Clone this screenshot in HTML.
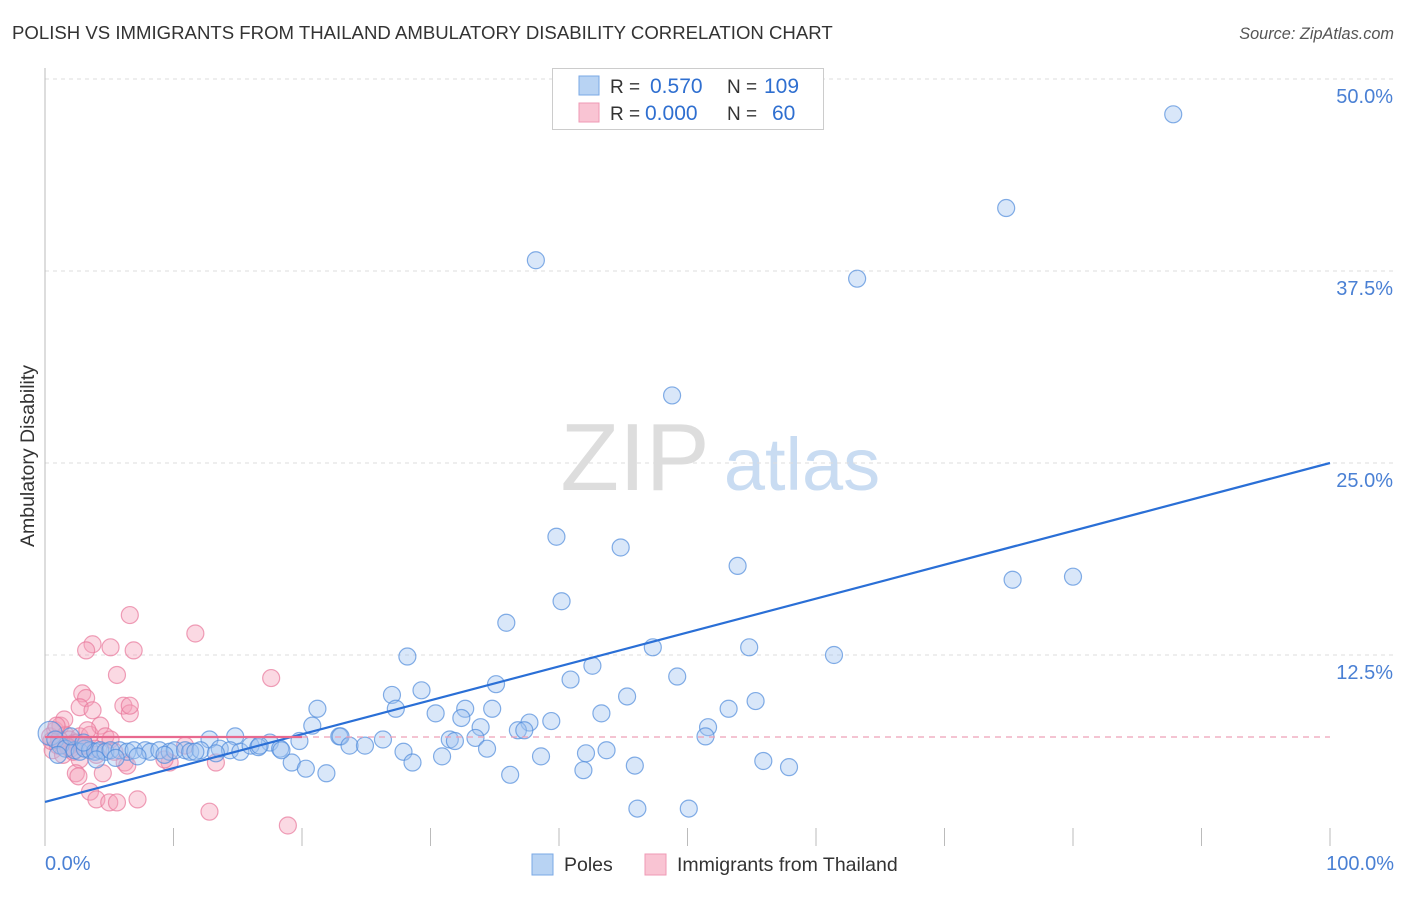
<!DOCTYPE html>
<html><head><meta charset="utf-8">
<style>
body{margin:0;background:#fff;font-family:"Liberation Sans",sans-serif;}
svg text{font-family:"Liberation Sans",sans-serif;}
</style></head>
<body>
<svg id="chart" width="1406" height="892" xmlns="http://www.w3.org/2000/svg">
<text x="12" y="39" font-size="18.6" fill="#333">POLISH VS IMMIGRANTS FROM THAILAND AMBULATORY DISABILITY CORRELATION CHART</text>
<text x="1394" y="39" font-size="16.3" fill="#555" font-style="italic" text-anchor="end">Source: ZipAtlas.com</text>
<g>
<text x="635" y="490" font-size="96" fill="#ddd" font-family="Liberation Serif" text-anchor="middle">ZIP</text>
<text x="802" y="490" font-size="74" fill="#c9dcf2" text-anchor="middle">atlas</text>
</g>
<g id="grid"></g>
<line x1="45" y1="68" x2="45" y2="846" stroke="#bbb"/>
<text transform="translate(34,456) rotate(-90)" font-size="19.5" fill="#333" text-anchor="middle">Ambulatory Disability</text>
<g id="ticks"></g>
<g id="pink"></g>
<g id="blue"></g>
<g id="lines"></g>
<g>
<rect x="552.5" y="68.5" width="271" height="61" fill="#fff" stroke="#ccc"/>
<rect x="579" y="76" width="20" height="19" fill="#b8d3f3" stroke="#7aa8e6"/>
<rect x="579" y="103" width="20" height="19" fill="#f9c4d3" stroke="#ef9ab4"/>
<text x="610" y="93" font-size="19" fill="#333">R =</text>
<text x="650" y="93" font-size="21" fill="#2f6fd0">0.570</text>
<text x="727" y="93" font-size="19" fill="#333">N =</text>
<text x="764" y="93" font-size="21" fill="#2f6fd0">109</text>
<text x="610" y="120" font-size="19" fill="#333">R =</text>
<text x="645" y="120" font-size="21" fill="#2f6fd0">0.000</text>
<text x="727" y="120" font-size="19" fill="#333">N =</text>
<text x="772" y="120" font-size="21" fill="#2f6fd0">60</text>
</g>
<g>
<rect x="532" y="854" width="21" height="21" fill="#b8d3f3" stroke="#7aa8e6"/>
<text x="564" y="871" font-size="19.5" fill="#333">Poles</text>
<rect x="645" y="854" width="21" height="21" fill="#f9c4d3" stroke="#ef9ab4"/>
<text x="677" y="871" font-size="19.5" fill="#333">Immigrants from Thailand</text>
</g>
<text x="45" y="870" font-size="20" fill="#4a80d4">0.0%</text>
<text x="1394" y="870" font-size="20" fill="#4a80d4" text-anchor="end">100.0%</text>
</svg>
<script>
const yTicks=[12.5,25,37.5,50];
const yTickLabels=["12.5%","25.0%","37.5%","50.0%"];
const blueX=[87.8,74.8,38.2,63.2,48.8,39.8,44.8,53.9,75.3,80.0,40.2,35.9,47.3,54.8,61.4,28.2,42.6,49.2,40.9,35.1,27.0,29.3,45.3,55.3,21.2,27.3,32.7,34.8,53.2,43.3,30.4,32.4,37.7,39.4,33.9,20.8,51.6,36.8,37.3,22.9,26.3,31.5,33.5,23.0,51.4,14.8,12.8,17.5,19.8,23.7,24.9,31.9,34.4,43.7,42.1,27.9,38.6,30.9,28.6,19.2,45.9,55.9,57.9,20.3,21.9,36.2,41.9,46.1,50.1,
0.4,0.8,1.2,1.6,2.3,2.7,3.1,3.5,3.9,4.3,4.7,5.1,5.8,6.4,6.9,7.8,8.2,8.9,9.7,10.1,10.9,11.3,12.1,13.6,14.4,15.2,16.0,16.6,18.3,18.4,2.0,3.0,5.5,7.2,9.3,11.7,13.3,16.7,1.0,4.0];
const blueY=[47.7,41.6,38.2,37.0,29.4,20.2,19.5,18.3,17.4,17.6,16.0,14.6,13.0,13.0,12.5,12.4,11.8,11.1,10.9,10.6,9.9,10.2,9.8,9.5,9.0,9.0,9.0,9.0,9.0,8.7,8.7,8.4,8.1,8.2,7.8,7.9,7.8,7.6,7.6,7.2,7.0,7.0,7.1,7.2,7.2,7.2,7.0,6.8,6.9,6.6,6.6,6.9,6.4,6.3,6.1,6.2,5.9,5.9,5.5,5.5,5.3,5.6,5.2,5.1,4.8,4.7,5.0,2.5,2.5,
7.4,7.0,6.6,6.4,6.3,6.2,6.4,6.3,6.2,6.3,6.2,6.3,6.3,6.2,6.3,6.3,6.2,6.3,6.2,6.3,6.3,6.2,6.3,6.4,6.3,6.2,6.6,6.5,6.4,6.3,7.2,6.8,5.8,5.9,6.0,6.2,6.1,6.6,6.0,5.7];
const pinkX=[6.6,11.7,3.7,3.2,5.1,6.9,17.6,5.6,2.9,3.2,6.1,6.6,2.7,3.7,6.6,0.4,0.8,1.2,1.6,1.9,2.3,2.7,3.1,3.5,3.9,4.3,4.7,5.1,0.6,1.0,1.4,2.0,2.5,3.3,4.0,5.4,6.2,0.5,1.1,1.8,2.7,2.4,2.6,4.5,3.5,4.0,5.0,5.6,7.2,12.8,18.9,6.4,9.7,13.3,10.9,9.3,1.5,0.9,3.0,2.2];
const pinkY=[15.1,13.9,13.2,12.8,13.0,12.8,11.0,11.2,10.0,9.7,9.2,8.7,9.1,8.9,9.2,7.2,7.6,7.9,7.3,7.0,6.8,7.2,6.6,7.3,6.4,7.9,7.2,7.0,6.3,6.6,6.0,6.4,6.8,7.6,6.0,6.2,5.5,6.9,7.0,6.5,5.7,4.8,4.6,4.8,3.6,3.1,2.9,2.9,3.1,2.3,1.4,5.3,5.5,5.5,6.6,5.7,8.3,7.9,6.6,6.2];
const blueTrend=[2.93,25.0];
const pinkMean=7.16;
const X=v=>45+v*12.85, Y=v=>847-v*15.36;
const NS="http://www.w3.org/2000/svg";
function mk(tag,attrs,parent){const e=document.createElementNS(NS,tag);for(const k in attrs)e.setAttribute(k,attrs[k]);parent.appendChild(e);return e;}
const grid=document.getElementById('grid');
yTicks.forEach((t,i)=>{
 const l=mk('line',{x1:45,x2:1394,y1:Y(t),y2:Y(t),stroke:'#ddd','stroke-dasharray':'4,4'},grid);
 
 
 const tx=mk('text',{x:1393,y:Y(t)+24,'font-size':20,fill:'#4a80d4','text-anchor':'end'},grid);
 tx.textContent=yTickLabels[i];
 
 
});
const ticks=document.getElementById('ticks');
for(let i=0;i<=10;i++){
 const l=mk('line',{x1:X(i*10),x2:X(i*10),y1:828,y2:846,stroke:'#bbb'},ticks);
 
 
}
const pg=document.getElementById('pink');
pinkX.forEach((x,i)=>{
 const c=mk('circle',{cx:X(x),cy:Y(pinkY[i]),r:8.5,fill:'rgba(244,160,186,0.4)',stroke:'rgba(232,120,155,0.7)','stroke-width':1.2},pg);
 
 
});
const bg=document.getElementById('blue');
blueX.forEach((x,i)=>{
 const c=mk('circle',{cx:X(x),cy:Y(blueY[i]),r:i==69?12:8.5,fill:'rgba(160,196,240,0.4)',stroke:'rgba(80,140,220,0.7)','stroke-width':1.2},bg);
 
 
});
const lg=document.getElementById('lines');
const bt=mk('line',{x1:X(0),y1:Y(blueTrend[0]),x2:X(100),y2:Y(blueTrend[1]),stroke:'#2a6fd6','stroke-width':2.2},lg);


const ps=mk('line',{x1:X(0),y1:Y(pinkMean),x2:X(20),y2:Y(pinkMean),stroke:'#e8698f','stroke-width':2.2},lg);


const pd=mk('line',{x1:X(20),y1:Y(pinkMean),x2:X(100),y2:Y(pinkMean),stroke:'#eda0b6','stroke-width':1.2,'stroke-dasharray':'6,5'},lg);


</script>
</body></html>
